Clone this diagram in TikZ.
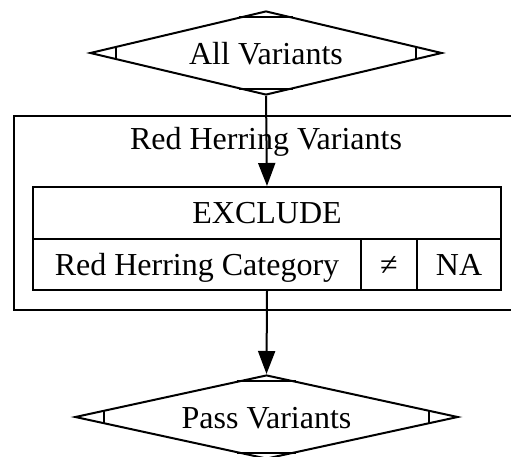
\documentclass[tikz,border=0pt]{standalone}
\usepackage{fontspec}
\setmainfont{Liberation Serif}
\usetikzlibrary{shapes.geometric,arrows.meta,calc}

\tikzset{
  every node/.style={font=\fontsize{32}{38}\selectfont},
  mdiamond/.style={shape=diamond, draw, inner sep=0pt},
  cell/.style={draw, rectangle, inner sep=0pt, text height=21.5pt, text depth=0pt},
  cluster/.style={draw, rectangle, inner sep=0pt},
  flow/.style={-{Triangle[length=23pt,width=17pt]}},
}

% the small cut marks inside each corner of a diamond node
\newcommand{\diamondmarks}[1]{%
  \draw ($(#1.north)!0.155!(#1.west)$) -- ($(#1.north)!0.155!(#1.east)$);
  \draw ($(#1.south)!0.155!(#1.west)$) -- ($(#1.south)!0.155!(#1.east)$);
  \draw ($(#1.west)!0.155!(#1.north)$) -- ($(#1.west)!0.155!(#1.south)$);
  \draw ($(#1.east)!0.155!(#1.north)$) -- ($(#1.east)!0.155!(#1.south)$);
}

\begin{document}
\begin{tikzpicture}[x=1pt, y=1pt, line width=2pt]
  \useasboundingbox (0,0) rectangle (511,-457);
  \clip (0,0) rectangle (511,-457);

  % cluster frame (open on the right)
  \node[cluster, anchor=north west, minimum width=510pt, minimum height=194pt] (clu) at (13,-115) {};
  \node[anchor=base] (clutitle) at (266,-150) {Red Herring Variants};

  % start and end diamonds
  \node[mdiamond, minimum width=352pt, minimum height=84pt] (all) at (266,-53) {};
  \node[anchor=base] (alltext) at (266,-65) {All Variants};
  \diamondmarks{all}

  \node[mdiamond, minimum width=383pt, minimum height=84pt] (pass) at (266.5,-417) {};
  \node[anchor=base] (passtext) at (266.5,-428) {Pass Variants};
  \diamondmarks{pass}

  % record: header row and three condition cells
  \node[cell, anchor=north west, minimum width=468pt, minimum height=52pt] (excl) at (32,-186) {EXCLUDE};
  \node[cell, anchor=north west, minimum width=328pt, minimum height=51pt] (cat) at (32,-238) {Red Herring Category};
  \node[cell, anchor=north west, minimum width=56pt, minimum height=51pt] (op) at (360,-238) {≠};
  \node[cell, anchor=north west, minimum width=84pt, minimum height=51pt] (val) at (416,-238) {NA};

  % connectors
  \draw[flow] (all.south) -- (excl.north);
  \draw[flow] (excl.south |- cat.south) -- (pass.north);
\end{tikzpicture}
\end{document}
